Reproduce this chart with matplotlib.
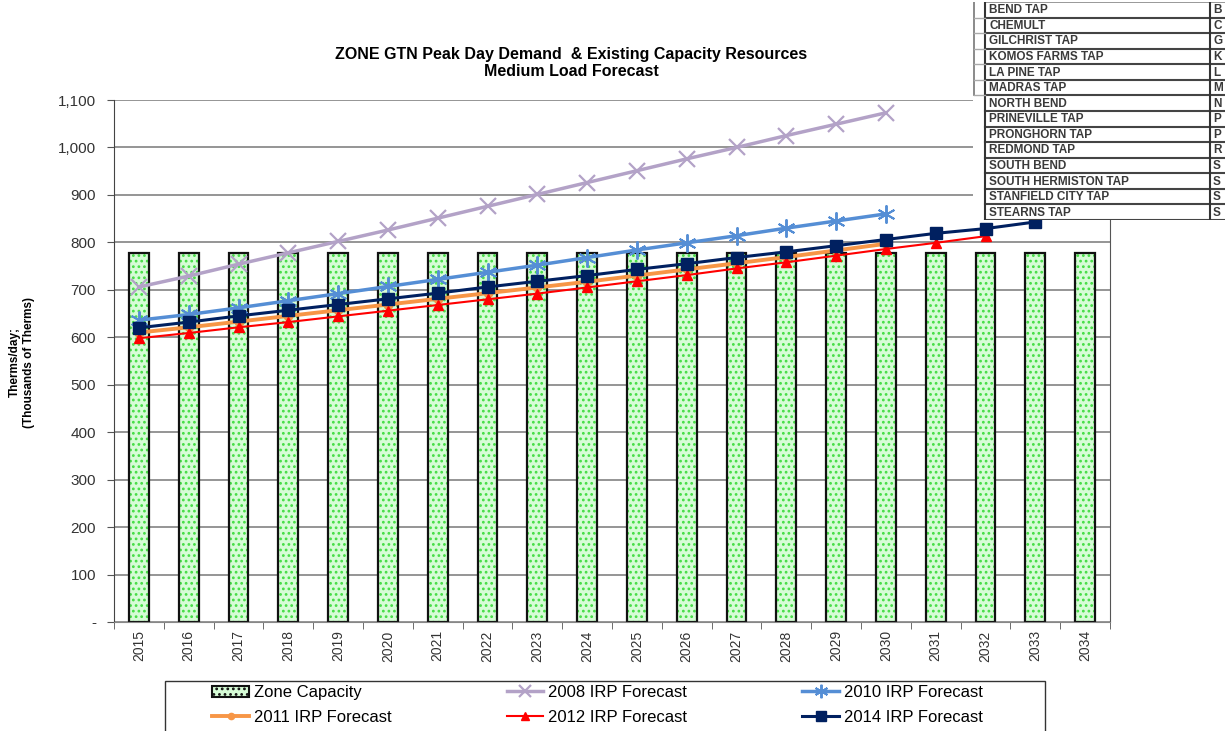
import numpy as np
import matplotlib
matplotlib.use("Agg")
import matplotlib.pyplot as plt
from matplotlib.ticker import FuncFormatter, FixedLocator
from matplotlib.patches import Rectangle

plt.rcParams['font.family'] = ['Liberation Sans', 'DejaVu Sans']
plt.rcParams['hatch.linewidth'] = 1.2

# data
years = [str(y) for y in range(2015, 2035)]
capacity = [778] * 20
irp2008 = [706, 729, 754, 778, 802, 826, 851, 876, 901, 926, 951, 976, 1000, 1025, 1049, 1073]
irp2010 = [636, 648, 662, 677, 692, 707, 722, 737, 752, 768, 784, 799, 814, 830, 845, 860]
irp2011 = [610, 621, 633, 645, 657, 669, 681, 693, 705, 717, 730, 743, 756, 769, 783, 797]
irp2012 = [598, 609, 621, 632, 644, 656, 668, 680, 692, 705, 718, 731, 745, 758, 772, 786, 799, 813]
irp2014 = [620, 632, 645, 657, 669, 681, 693, 706, 718, 730, 743, 755, 768, 780, 793, 806, 819, 829, 843]
taps = ['BEND TAP', 'CHEMULT', 'GILCHRIST TAP', 'KOMOS FARMS TAP', 'LA PINE TAP', 'MADRAS TAP',
        'NORTH BEND', 'PRINEVILLE TAP', 'PRONGHORN TAP', 'REDMOND TAP', 'SOUTH BEND',
        'SOUTH HERMISTON TAP', 'STANFIELD CITY TAP', 'STEARNS TAP']

W, H = 1225, 731
fig = plt.figure(figsize=(W / 100, H / 100), dpi=100)
ax = fig.add_axes([114 / W, 1 - 622 / H, 996 / W, 522 / H])

x = np.arange(len(years))
# dotted green bars: hatch layer then black outline
ax.bar(x, capacity, width=0.4, color='#d6fcd6', edgecolor='#44dd44', linewidth=0,
       hatch='...', zorder=2)
ax.bar(x, capacity, width=0.4, fill=False, edgecolor='#111111', linewidth=1.6, zorder=2.5)

asterisk = (6, 2, 0)
l08, = ax.plot(x[:len(irp2008)], irp2008, color='#b3a2c7', lw=2.5, marker='x', ms=11, mew=1.6, zorder=3)
l10, = ax.plot(x[:len(irp2010)], irp2010, color='#558ed5', lw=2.5, marker=asterisk, ms=13, mew=1.4, zorder=3)
l11, = ax.plot(x[:len(irp2011)], irp2011, color='#f79646', lw=2.8, marker='o', ms=6, zorder=3)
l12, = ax.plot(x[:len(irp2012)], irp2012, color='#ff0000', lw=1.5, marker='^', ms=7, zorder=3)
l14, = ax.plot(x[:len(irp2014)], irp2014, color='#002060', lw=2.2, marker='s', ms=9, zorder=3)

ax.set_xlim(-0.5, 19.5)
ax.set_ylim(0, 1100)
ax.set_yticks(range(0, 1101, 100))
ax.yaxis.set_major_formatter(FuncFormatter(lambda v, p: '-' if v == 0 else f'{int(v):,}'))
ax.yaxis.grid(True, color='#8c8c8c', lw=1.3, zorder=0)
ax.set_axisbelow(True)
ax.set_xticks(x)
ax.set_xticklabels(years, rotation=90, fontsize=10, color='#333333')
ax.xaxis.set_minor_locator(FixedLocator(np.arange(-0.5, 20, 1)))
ax.tick_params(axis='x', which='major', length=0, pad=6)
ax.tick_params(axis='x', which='minor', length=5, direction='out', color='#555555')
ax.tick_params(axis='y', length=5, direction='out', labelsize=11, color='#555555',
               labelcolor='#333333', pad=8)
ax.spines['top'].set_visible(False)
ax.spines['right'].set_color('#555555')
ax.spines['left'].set_color('#444444')
ax.spines['bottom'].set_color('#888888')

fig.text(571 / W, 1 - 54 / H, 'ZONE GTN Peak Day Demand  & Existing Capacity Resources',
         ha='center', va='center', fontsize=11.5, fontweight='bold')
fig.text(571 / W, 1 - 71 / H, 'Medium Load Forecast', ha='center', va='center',
         fontsize=11.5, fontweight='bold')
fig.text(15 / W, 1 - 362 / H, 'Therms/day;', rotation=90, ha='center', va='center',
         fontsize=8.5, fontweight='bold')
fig.text(29 / W, 1 - 362 / H, '(Thousands of Therms)', rotation=90, ha='center', va='center',
         fontsize=8.5, fontweight='bold')

# legend frame drawn by hand, entries in row-wise order for a 3-column legend
fig.patches.append(Rectangle((165 / W, 1 - 745 / H), 880 / W, 64 / H, transform=fig.transFigure,
                             facecolor='white', edgecolor='#333333', lw=1.0))
zone = Rectangle((0, 0), 1, 1, facecolor='#d6fcd6', edgecolor='#111111', hatch='...', lw=1.5)
handles = [zone, l11, l08, l12, l10, l14]
labels = ['Zone Capacity', '2011 IRP Forecast', '2008 IRP Forecast', '2012 IRP Forecast',
          '2010 IRP Forecast', '2014 IRP Forecast']
leg = fig.legend(handles, labels, ncol=3, loc='upper left',
                 bbox_to_anchor=(209 / W, 1 - 682 / H), frameon=False, markerscale=0.75,
                 fontsize=12, handlelength=2.2, handletextpad=0.3, columnspacing=6.9,
                 borderaxespad=0, labelspacing=0.6, borderpad=0.2)

# pasted tap table at top right
tax = fig.add_axes([973 / W, 1 - 220 / H, 252 / W, 218 / H], zorder=10)
tax.set_xlim(973, 1225)
tax.set_ylim(220, 2)
tax.axis('off')
tax.add_patch(Rectangle((973, 2), 252, 218, facecolor='white', edgecolor='none'))
row_h = 218 / len(taps)
for i, name in enumerate(taps):
    y0 = 2 + i * row_h
    tax.plot([985, 1225], [y0 + row_h, y0 + row_h], color='#444444', lw=1.5)
    tax.text(989, y0 + row_h / 2 + 0.5, name, fontsize=8.5, fontweight='bold',
             color='#3a3a3a', va='center', ha='left')
    tax.text(1213, y0 + row_h / 2 + 0.5, name[0], fontsize=8.5, fontweight='bold',
             color='#3a3a3a', va='center', ha='left')
tax.plot([985, 1225], [2, 2], color='#888888', lw=1.2)
tax.plot([985, 985], [2, 220], color='#333333', lw=1.5)
tax.plot([1210, 1210], [2, 220], color='#333333', lw=1.5)
tax.plot([974, 974], [2, 2 + 6 * row_h], color='#777777', lw=1.2)
for i in range(6):
    tax.plot([974, 985], [2 + (i + 1) * row_h] * 2, color='#aaaaaa', lw=1.0)

fig.savefig('out.png', dpi=100)
